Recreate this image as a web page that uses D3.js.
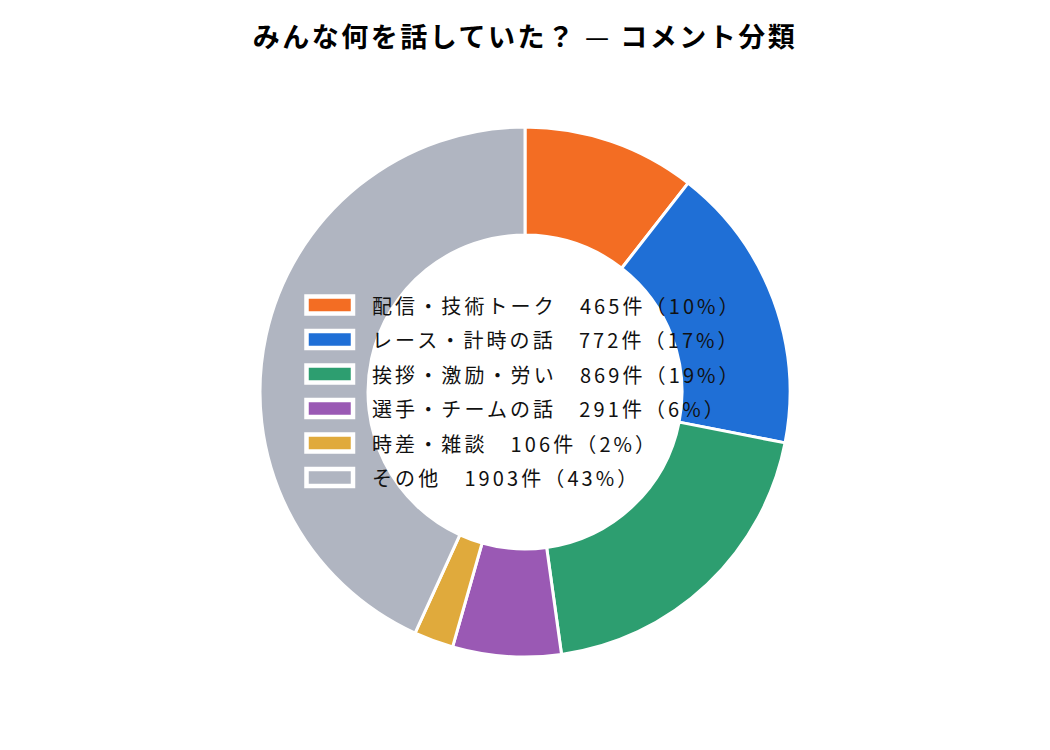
<!DOCTYPE html>
<html>
<head>
<meta charset="utf-8">
<title>コメント分類</title>
<script src="https://cdn.jsdelivr.net/npm/d3@7/dist/d3.min.js"></script>
<style>
    body {
        margin: 0;
        background: #fff;
        font-family: "Noto Sans CJK JP", sans-serif;
    }
    .title {
        font-weight: bold;
        font-size: 27px;
        letter-spacing: 2.5px;
        fill: #000;
    }
    .title .dash {
        font-weight: normal;
    }
    .legend text {
        font-size: 20px;
        letter-spacing: 3.1px;
        fill: #111;
    }
</style>
</head>
<body>
<div id="chart"></div>
<script>
    // categories and counts
    const categories = ["配信・技術トーク", "レース・計時の話", "挨拶・激励・労い", "選手・チームの話", "時差・雑談", "その他"];
    const counts = [465, 772, 869, 291, 106, 1903];
    const colors = ["#F36D23", "#1F6FD6", "#2D9E70", "#9A59B4", "#E0AA3C", "#B0B5C1"];
    const titleParts = ["みんな何を話していた？", " — ", "コメント分類"];

    const width = 1050;
    const height = 750;
    const cx = 525, cy = 392;
    const outerR = 265, innerR = 157;

    let svg = d3.select("#chart")
        .append("svg")
        .attr("width", width)
        .attr("height", height);

    let title = svg.append("text")
        .attr("class", "title")
        .attr("x", width / 2)
        .attr("y", 35)
        .attr("text-anchor", "middle")
        .attr("dominant-baseline", "central")
        .attr("xml:space", "preserve");

    title.selectAll("tspan")
        .data(titleParts)
        .enter()
        .append("tspan")
        .attr("class", (d, i) => i == 1 ? "dash" : null)
        .text(d => d);

    let total = d3.sum(counts);
    let data = categories.map((c, i) => ({ name: c, value: counts[i], color: colors[i] }));

    let pie = d3.pie()
        .sort(null)
        .value(d => d.value);

    let arc = d3.arc()
        .innerRadius(innerR)
        .outerRadius(outerR);

    let g = svg.append("g")
        .attr("transform", "translate(" + [cx, cy] + ")");

    g.selectAll("path")
        .data(pie(data))
        .enter()
        .append("path")
        .attr("d", arc)
        .attr("fill", d => d.data.color)
        .attr("stroke", "#fff")
        .attr("stroke-width", 3);

    // legend sits over the hole of the donut
    let rowY = d3.scalePoint()
        .domain(categories)
        .range([305, 477.5]);

    let legend = svg.append("g").attr("class", "legend");

    let rows = legend.selectAll("g")
        .data(data)
        .enter()
        .append("g")
        .attr("transform", d => "translate(0," + rowY(d.name) + ")");

    rows.append("rect")
        .attr("x", 306.5)
        .attr("y", -8.5)
        .attr("width", 46.5)
        .attr("height", 17)
        .attr("fill", d => d.color)
        .attr("stroke", "#fff")
        .attr("stroke-width", 4.5);

    rows.append("text")
        .attr("x", 372)
        .attr("y", 0)
        .attr("dominant-baseline", "central")
        .text(d => d.name + "\u3000" + d.value + "件（" + Math.floor(d.value / total * 100) + "%）");
</script>
</body>
</html>
